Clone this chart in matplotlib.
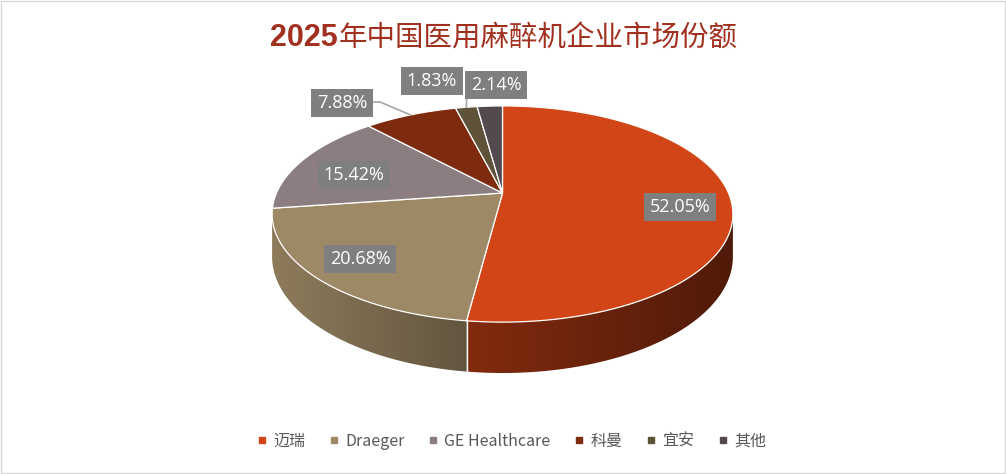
import numpy as np
import matplotlib.pyplot as plt
from matplotlib.patches import Polygon, Rectangle
from matplotlib.lines import Line2D
from matplotlib.colors import to_rgb

plt.rcParams['font.family'] = ['Noto Sans CJK SC', 'DejaVu Sans']

title_year = '2025'
title_rest = '年中国医用麻醉机企业市场份额'
companies = ['迈瑞', 'Draeger', 'GE Healthcare', '科曼', '宜安', '其他']
shares = [52.05, 20.68, 15.42, 7.88, 1.83, 2.14]
colors = ['#D24516', '#9E8966', '#8C7D80', '#7E2A0E', '#5E5239', '#544A4E']

# label box centres (pixels) and which labels get a leader line
label_pos = [(680, 207), (360, 259), (354, 175), (342, 103), (432, 81), (496, 85)]
leaders = [False, False, False, True, True, False]

W, H = 1006, 474
fig = plt.figure(figsize=(W / 100, H / 100), dpi=100)
ax = fig.add_axes([0, 0, 1, 1])
ax.set_xlim(0, W)
ax.set_ylim(H, 0)
ax.axis('off')

# perspective of the tilted pie
cx, cy = 502.5, 193.0
A, B, k, depth = 226.0, 104.0, 0.1945, 41.0


def project(theta, r=1.0, h=0.0):
    X = r * np.sin(theta)
    Z = -r * np.cos(theta)
    w = 1 - k * Z
    return cx + A * X / w, cy + (B * Z + depth * h) / w


def shade(x):
    return np.interp(x, [272, 468, 733], [0.9, 0.62, 0.38])


frac = np.array(shares) / sum(shares)
edges = np.concatenate([[0], np.cumsum(frac)]) * 2 * np.pi

# side wall: only the part in front of the silhouette, filled with a gradient
t_lo, t_hi = np.pi / 2 + np.arcsin(k), 3 * np.pi / 2 - np.arcsin(k)
gx = np.arange(260, 750)
for i in range(len(shares)):
    a, b = max(edges[i], t_lo), min(edges[i + 1], t_hi)
    if a >= b:
        continue
    t = np.linspace(a, b, 200)
    xs, ys = project(t)
    xb, yb = project(t[::-1], h=1)
    poly = Polygon(list(zip(xs, ys)) + list(zip(xb, yb)), closed=True,
                   facecolor='none', edgecolor='none')
    ax.add_patch(poly)
    base = np.array(to_rgb(colors[i]))
    grad = np.clip(base[None, None, :] * shade(gx)[None, :, None], 0, 1)
    im = ax.imshow(grad, extent=(gx[0], gx[-1] + 1, 390, 100), aspect='auto',
                   interpolation='bilinear', zorder=1)
    im.set_clip_path(poly)

for e in edges:
    if t_lo < e < t_hi:
        x0, y0 = project(e)
        x1, y1 = project(e, h=1)
        ax.plot([x0, x1], [y0, y1], color='white', lw=1, zorder=2)

# top faces
for i in range(len(shares)):
    t = np.linspace(edges[i], edges[i + 1], 200)
    xs, ys = project(t)
    pts = [(cx, cy)] + list(zip(xs, ys))
    ax.add_patch(Polygon(pts, closed=True, facecolor=colors[i], edgecolor='white',
                         lw=0.9, zorder=3))

# data labels
for i, v in enumerate(shares):
    lx, ly = label_pos[i]
    ax.text(lx, ly, f'{v:.2f}%', ha='center', va='center', color='white',
            fontsize=13, family='Open Sans', zorder=6,
            bbox=dict(boxstyle='square,pad=0.3', fc='#7F7F7F', ec='none'))
    if leaders[i]:
        mx, my = project((edges[i] + edges[i + 1]) / 2)
        if i == 3:
            ax.plot([lx + 30, lx + 38, mx], [ly - 1, ly - 1, my], color='#A6A6A6',
                    lw=1.2, zorder=5)
        else:
            ax.plot([mx + 0.5, mx], [ly + 14, my], color='#A6A6A6', lw=1.2, zorder=5)

# title
t1 = ax.text(0, 38, title_year, ha='left', va='center', fontsize=22, fontweight='bold',
             color='#A2301F', family=['Liberation Sans Narrow', 'Liberation Sans'])
t2 = ax.text(0, 39, title_rest, ha='left', va='center', fontsize=20.5,
             color='#A2301F', family=['Noto Sans CJK SC'])
r = fig.canvas.get_renderer()
w1 = t1.get_window_extent(r).width
w2 = t2.get_window_extent(r).width
x0 = 503 - (w1 + w2) / 2
t1.set_x(x0)
t2.set_x(x0 + w1 + 1)

# legend
handles = [Line2D([], [], marker='s', ls='none', markersize=5, color=c) for c in colors]
fig.legend(handles, companies, loc='center', bbox_to_anchor=(0.508, 1 - 441 / H),
           ncol=6, frameon=False, fontsize=11.5, labelcolor='#595959',
           handlelength=0.8, handletextpad=0.3, columnspacing=1.4)

ax.add_patch(Rectangle((0.5, 0.5), W - 1.5, H - 1.5, fill=False, ec='#D9D9D9', lw=1,
                       zorder=10))

fig.savefig('out.png', dpi=100)
